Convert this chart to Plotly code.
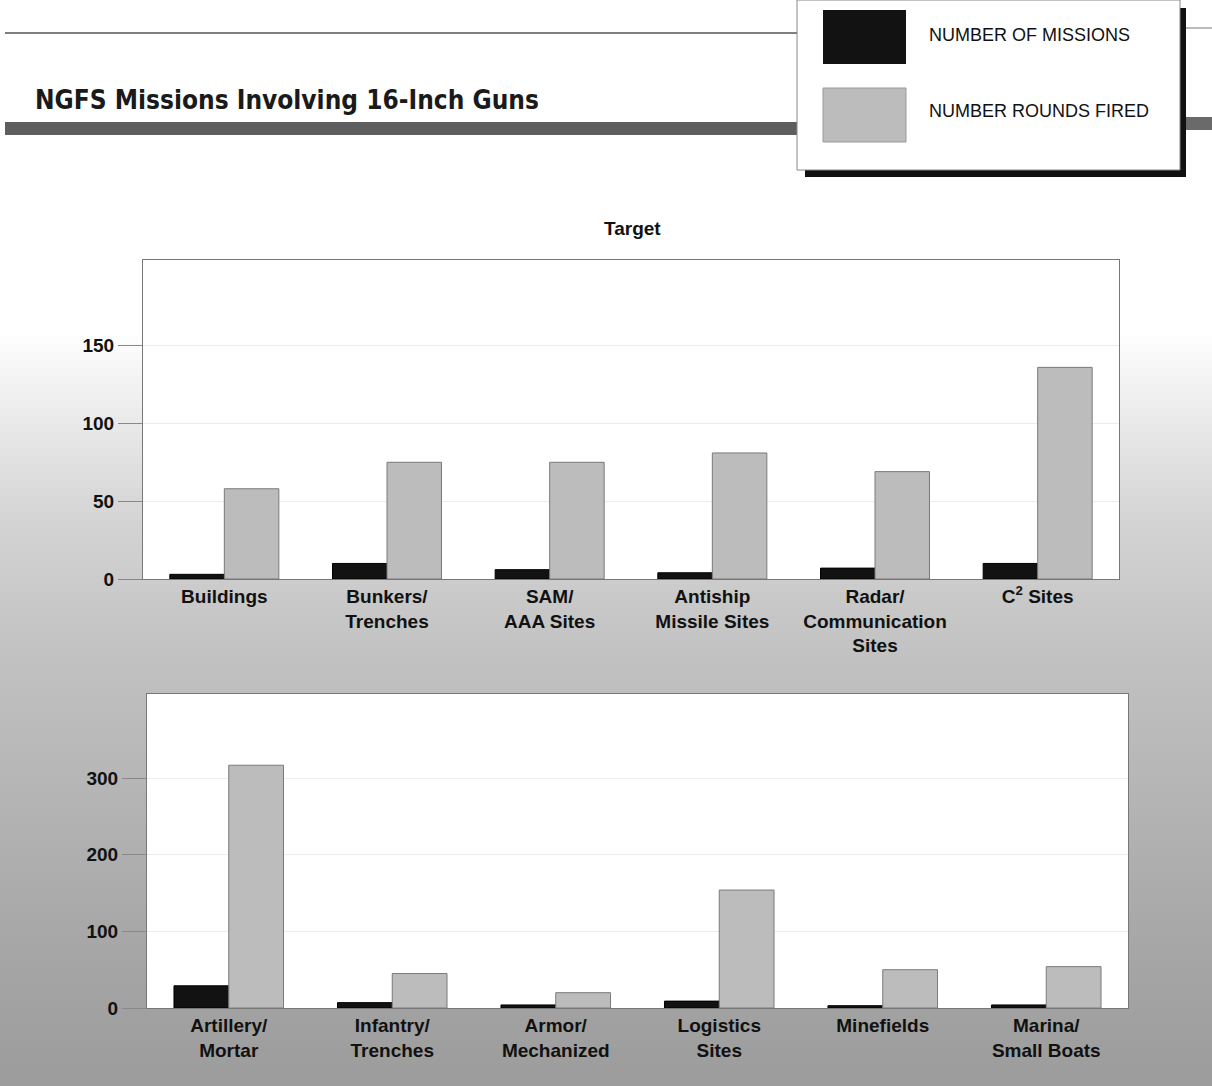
import plotly.graph_objects as go

W, H = 1212, 1086

# ---------------- data ----------------
top_categories = ["Buildings", "Bunkers/<br>Trenches", "SAM/<br>AAA Sites",
                  "Antiship<br>Missile Sites", "Radar/<br>Communication<br>Sites",
                  "C<sup>2</sup> Sites"]
top_missions = [3, 10, 6, 4, 7, 10]
top_rounds = [58, 75, 75, 81, 69, 136]

bottom_categories = ["Artillery/<br>Mortar", "Infantry/<br>Trenches", "Armor/<br>Mechanized",
                     "Logistics<br>Sites", "Minefields", "Marina/<br>Small Boats"]
bottom_missions = [29, 7, 4, 9, 3, 4]
bottom_rounds = [317, 45, 20, 154, 50, 54]

top_ticks = [0, 50, 100, 150]
bottom_ticks = [0, 100, 200, 300]

series_names = ["NUMBER OF MISSIONS", "NUMBER ROUNDS FIRED"]
BLACK = "#121212"
GRAY = "#bcbcbc"

FONT = "Liberation Sans, Arial, sans-serif"

def px_x(x):
    return x / W

def px_y(y):
    return 1 - y / H

fig = go.Figure()

fig.add_trace(go.Bar(x=top_categories, y=top_missions, name=series_names[0],
                     marker=dict(color=BLACK, line=dict(color="#000", width=1)),
                     xaxis="x", yaxis="y", showlegend=False))
fig.add_trace(go.Bar(x=top_categories, y=top_rounds, name=series_names[1],
                     marker=dict(color=GRAY, line=dict(color="#7a7a7a", width=1)),
                     xaxis="x", yaxis="y", showlegend=False))
fig.add_trace(go.Bar(x=bottom_categories, y=bottom_missions, name=series_names[0],
                     marker=dict(color=BLACK, line=dict(color="#000", width=1)),
                     xaxis="x2", yaxis="y2", showlegend=False))
fig.add_trace(go.Bar(x=bottom_categories, y=bottom_rounds, name=series_names[1],
                     marker=dict(color=GRAY, line=dict(color="#7a7a7a", width=1)),
                     xaxis="x2", yaxis="y2", showlegend=False))

shapes = []
# background gradient (white top -> gray bottom)
def lerp(a, b, t):
    return a + (b - a) * t
stops = [(0, 255), (330, 255), (420, 234), (520, 212), (650, 194), (800, 180), (950, 166), (1086, 156)]
step = 8
y = 0
while y < H:
    yc = y + step / 2
    for i in range(len(stops) - 1):
        if stops[i][0] <= yc <= stops[i + 1][0]:
            t = (yc - stops[i][0]) / (stops[i + 1][0] - stops[i][0])
            v = int(round(lerp(stops[i][1], stops[i + 1][1], t)))
            break
    shapes.append(dict(type="rect", xref="paper", yref="paper", layer="below",
                       x0=0, x1=1, y0=max(0, px_y(y + step + 1)), y1=px_y(y),
                       fillcolor=f"rgb({v},{v},{v})", line=dict(width=0)))
    y += step

# white plot areas
for ax in [("x domain", "y domain"), ("x2 domain", "y2 domain")]:
    shapes.append(dict(type="rect", xref=ax[0], yref=ax[1], layer="below",
                       x0=0, x1=1, y0=0, y1=1, fillcolor="white", line=dict(width=0)))

# header lines
shapes.append(dict(type="line", xref="paper", yref="paper", x0=px_x(5), x1=px_x(797),
                   y0=px_y(33), y1=px_y(33), line=dict(color="#555", width=1.5)))
shapes.append(dict(type="rect", xref="paper", yref="paper", x0=px_x(5), x1=px_x(797),
                   y0=px_y(135), y1=px_y(122), fillcolor="#5e5e5e", line=dict(width=0)))
shapes.append(dict(type="rect", xref="paper", yref="paper", x0=px_x(1183), x1=px_x(1212),
                   y0=px_y(130), y1=px_y(117), fillcolor="#6a6a6a", line=dict(width=0)))
shapes.append(dict(type="line", xref="paper", yref="paper", x0=px_x(1183), x1=px_x(1212),
                   y0=px_y(28), y1=px_y(28), line=dict(color="#777", width=1)))

# legend box
shapes.append(dict(type="rect", xref="paper", yref="paper", x0=px_x(805), x1=px_x(1186),
                   y0=px_y(177), y1=px_y(8), fillcolor="#111", line=dict(width=0)))
shapes.append(dict(type="rect", xref="paper", yref="paper", x0=px_x(797), x1=px_x(1180),
                   y0=px_y(170), y1=px_y(0), fillcolor="white",
                   line=dict(color="#888", width=1)))
shapes.append(dict(type="rect", xref="paper", yref="paper", x0=px_x(823), x1=px_x(906),
                   y0=px_y(64), y1=px_y(10), fillcolor=BLACK, line=dict(width=0)))
shapes.append(dict(type="rect", xref="paper", yref="paper", x0=px_x(823), x1=px_x(906),
                   y0=px_y(142), y1=px_y(88), fillcolor=GRAY,
                   line=dict(color="#999", width=1)))

annotations = [
    dict(text="<b>NGFS Missions Involving 16-Inch Guns</b>", xref="paper", yref="paper",
         x=px_x(33), y=px_y(100), xanchor="left", yanchor="middle", showarrow=False,
         font=dict(family="DejaVu Sans Condensed, Liberation Sans Narrow, sans-serif",
                   size=26, color="#1a1a1a")),
    dict(text=series_names[0], xref="paper", yref="paper", x=px_x(927), y=px_y(35),
         xanchor="left", yanchor="middle", showarrow=False,
         font=dict(family=FONT, size=18, color="#111")),
    dict(text=series_names[1], xref="paper", yref="paper", x=px_x(927), y=px_y(111),
         xanchor="left", yanchor="middle", showarrow=False,
         font=dict(family=FONT, size=18, color="#111")),
    dict(text="<b>Target</b>", xref="paper", yref="paper", x=px_x(632), y=px_y(228),
         xanchor="center", yanchor="middle", showarrow=False,
         font=dict(family=FONT, size=19, color="#111")),
]

axis_common = dict(showline=True, linecolor="#777", linewidth=1, mirror=True,
                   fixedrange=True, automargin=False)
xaxis_common = dict(tickfont=dict(family=FONT, size=19, color="#111"),
                    ticks="", type="category", **axis_common)
yaxis_common = dict(tickfont=dict(family=FONT, size=19, color="#111"),
                    ticks="outside", ticklen=24, tickcolor="#888", tickwidth=1,
                    showgrid=True, gridcolor="#ececec", gridwidth=1,
                    zeroline=False, **axis_common)

fig.update_layout(
    width=W, height=H,
    margin=dict(l=0, r=0, t=0, b=0, pad=0),
    paper_bgcolor="white", plot_bgcolor="rgba(0,0,0,0)",
    barmode="group", bargap=0.33, bargroupgap=0,
    showlegend=False,
    font=dict(family=FONT, color="#111"),
    xaxis=dict(domain=[px_x(143), px_x(1119)], anchor="y", **xaxis_common),
    yaxis=dict(domain=[px_y(579), px_y(260)], anchor="x", range=[0, 205],
               tickvals=top_ticks, ticktext=[f"<b>{t}</b>" for t in top_ticks],
               **yaxis_common),
    xaxis2=dict(domain=[px_x(147), px_x(1128)], anchor="y2", **xaxis_common),
    yaxis2=dict(domain=[px_y(1008), px_y(694)], anchor="x2", range=[0, 410],
                tickvals=bottom_ticks, ticktext=[f"<b>{t}</b>" for t in bottom_ticks],
                **yaxis_common),
    shapes=shapes,
    annotations=annotations,
)
fig.update_xaxes(tickprefix="<b>", ticksuffix="</b>")

fig.write_html("out.html", config={"displayModeBar": False},
               post_script="document.body.style.margin='0';document.body.style.overflow='hidden';")
